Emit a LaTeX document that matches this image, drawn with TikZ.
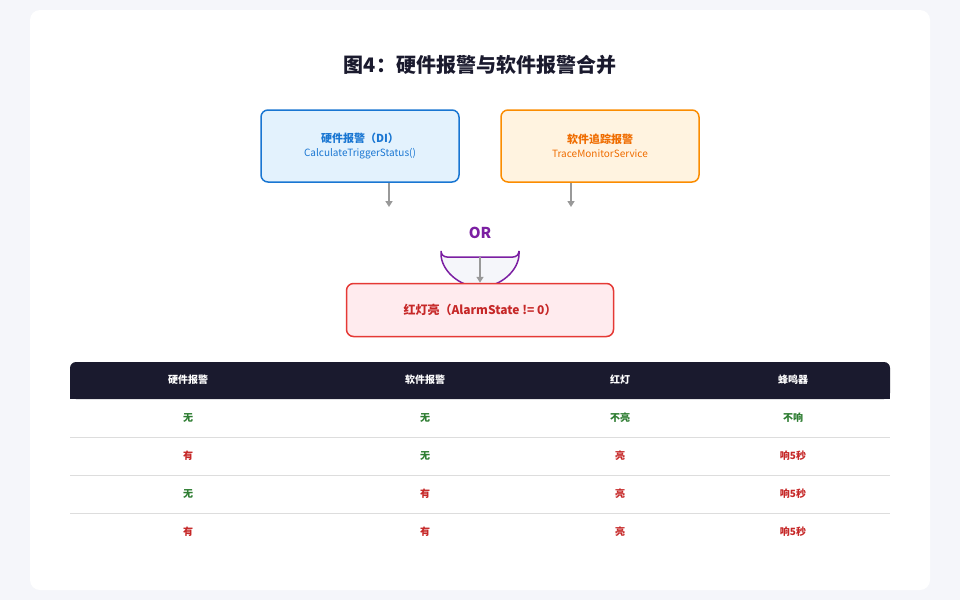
\documentclass[tikz,border=0pt]{standalone}
\usepackage{fontspec}
\setmainfont{Noto Sans CJK SC}
\usetikzlibrary{arrows.meta, calc, positioning}
\definecolor{pagebg}{HTML}{F5F6FA}
\definecolor{hwblue}{HTML}{1976D2}
\definecolor{hwfill}{HTML}{E3F2FD}
\definecolor{sworange}{HTML}{FB8C00}
\definecolor{swtext}{HTML}{EF6C00}
\definecolor{swfill}{HTML}{FFF3E0}
\definecolor{orpurple}{HTML}{7B1FA2}
\definecolor{lampred}{HTML}{E53935}
\definecolor{lamptext}{HTML}{C62828}
\definecolor{lampfill}{HTML}{FFEBEE}
\definecolor{headdark}{HTML}{1A1A2E}
\definecolor{okgreen}{HTML}{2E7D32}
\definecolor{rowline}{HTML}{DDDDDD}
\definecolor{wiregray}{HTML}{999999}
\begin{document}
\begin{tikzpicture}[
            x=1pt, y=-1pt,
            box/.style={draw, line width=1.5pt, rounded corners=7pt, minimum width=198pt, minimum height=72pt, align=center},
            wire/.style={wiregray, line width=1.5pt, -{Triangle[width=7pt,length=6pt]}},
            cell/.style={font=\bfseries\fontsize{10}{12}\selectfont},
            yes/.style={cell, text=lamptext},
            no/.style={cell, text=okgreen}
        ]
            \useasboundingbox (0,0) rectangle (960,600);
            \fill[pagebg] (0,0) rectangle (960,600);
            \fill[white, rounded corners=10pt] (30,10) rectangle (930,590);
            \node[font=\bfseries\fontsize{20}{24}\selectfont, text=headdark] (title) at (480,65) {图4：硬件报警与软件报警合并};

            % Inputs
            \node[box, draw=hwblue, fill=hwfill, text=hwblue] (hw) at (360,146)
                {{\bfseries\fontsize{11}{14}\selectfont 硬件报警（DI）}\\[2pt]{\fontsize{10}{12}\selectfont CalculateTriggerStatus()}};
            \node[box, draw=sworange, fill=swfill, text=swtext] (sw) at (600,146)
                {{\bfseries\fontsize{11}{14}\selectfont 软件追踪报警}\\[2pt]{\fontsize{10}{12}\selectfont TraceMonitorService}};

            % OR gate
            \draw[orpurple, line width=1.5pt, fill=pagebg, rounded corners=6pt]
                (441,257) -- (441,248) arc[start angle=180, end angle=0, radius=39] -- (519,257) -- cycle;
            \node[font=\bfseries\fontsize{15}{18}\selectfont, text=orpurple] (or) at (480,233) {OR};
            \coordinate (orin) at (480,257);

            % Output
            \node[box, draw=lampred, fill=lampfill, text=lamptext, minimum width=267pt, minimum height=53pt,
                  font=\bfseries\fontsize{12}{14}\selectfont] (lamp) at (480,310) {红灯亮（AlarmState != 0）};

            % Connections
            \coordinate (hwend) at (389,207);
            \coordinate (swend) at (571,207);
            \draw[wire] (hw.south -| hwend) -- (hwend);
            \draw[wire] (sw.south -| swend) -- (swend);
            \draw[wire] (orin) -- (lamp.north);

            % Truth table
            \fill[headdark, rounded corners=6pt] (70,362) rectangle (890,399);
            \fill[headdark] (70,380) rectangle (890,399);
            \foreach \x/\t in {188/硬件报警, 425/软件报警, 620/红灯, 793/蜂鸣器}
                \node[cell, text=white] at (\x,380) {\t};
            \foreach \y in {437,475,513}
                \draw[rowline, line width=0.8pt] (70,\y) -- (890,\y);
            \foreach \y/\a/\as/\b/\bs/\c/\cs/\d/\ds in {
                418/no/无/no/无/no/不亮/no/不响,
                456/yes/有/no/无/yes/亮/yes/响5秒,
                494/no/无/yes/有/yes/亮/yes/响5秒,
                532/yes/有/yes/有/yes/亮/yes/响5秒}{
                \node[\a] at (188,\y) {\as};
                \node[\b] at (425,\y) {\bs};
                \node[\c] at (620,\y) {\cs};
                \node[\d] at (793,\y) {\ds};
            }
        \end{tikzpicture}
\end{document}
